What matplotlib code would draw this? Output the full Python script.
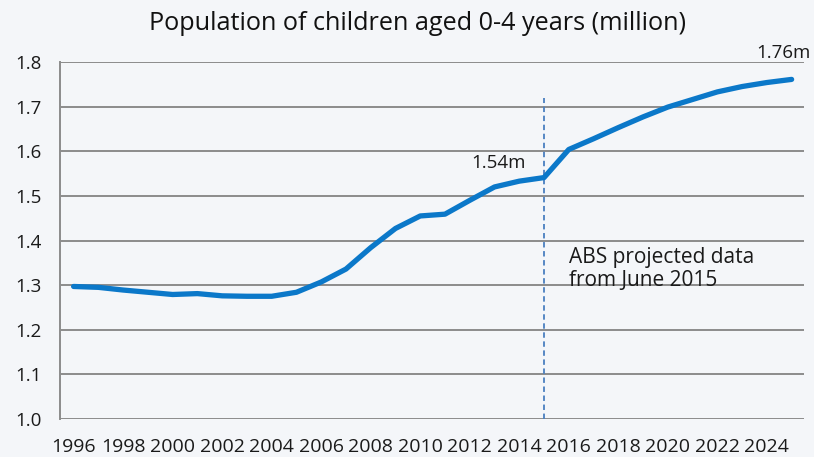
import matplotlib
matplotlib.use("Agg")
import matplotlib.pyplot as plt

# Population of children aged 0-4 (million), actual to 2015 and ABS projection after
years = list(range(1996, 2026))
population = [1.297, 1.295, 1.289, 1.284, 1.279, 1.281, 1.276, 1.275, 1.275, 1.284,
              1.307, 1.336, 1.384, 1.427, 1.455, 1.459, 1.490, 1.520, 1.533, 1.541,
              1.604, 1.628, 1.653, 1.677, 1.699, 1.716, 1.733, 1.745, 1.754, 1.761]
year_ticks = list(range(1996, 2025, 2))
y_ticks = [1.0, 1.1, 1.2, 1.3, 1.4, 1.5, 1.6, 1.7, 1.8]
projection_start = 2015
projection_line_top = 1.72

plt.rcParams['font.family'] = ['Open Sans', 'DejaVu Sans']

bg = '#f4f6f9'
fig = plt.figure(figsize=(8.14, 4.57), dpi=100, facecolor=bg)
ax = fig.add_axes([60 / 814, 38 / 457, 744 / 814, 357 / 457], facecolor=bg)

grid_color = '#8c8c8c'
for v in y_ticks:
    ax.axhline(v, color=grid_color, lw=1.4, zorder=1)

ax.plot(years, population, color='#0b78c9', lw=3.8, solid_capstyle='round',
        solid_joinstyle='round', zorder=3)

ax.vlines(projection_start, 1.0, projection_line_top, color='#4a7fc0', lw=1.3,
          linestyles=(0, (3, 2)), zorder=2)

ax.set_xlim(1995.45, 2025.5)
ax.set_ylim(1.0, 1.8)
ax.set_xticks(year_ticks)
ax.set_xticklabels([str(y) for y in year_ticks], fontsize=14)
ax.set_yticks(y_ticks)
ax.set_yticklabels([f"{v:.1f}" for v in y_ticks], fontsize=13.5)
ax.tick_params(axis='both', length=0, colors='#1a1a1a')
ax.tick_params(axis='x', pad=14)
ax.tick_params(axis='y', pad=13)

for side in ('top', 'right', 'bottom'):
    ax.spines[side].set_visible(False)
ax.spines['left'].set_color(grid_color)
ax.spines['left'].set_linewidth(1.4)

ax.text(2013.15, 1.562, "1.54m", fontsize=13.5, color='#1a1a1a', ha='center', va='baseline')
ax.text(2025.78, 1.808, "1.76m", fontsize=13.5, color='#1a1a1a', ha='right', va='baseline',
        clip_on=False)
ax.text(2016.0, 1.299, "ABS projected data\nfrom June 2015", fontsize=15,
        color='#1a1a1a', ha='left', va='baseline', linespacing=1.1)

fig.text(0.513, 0.948, "Population of children aged 0-4 years (million)",
         ha='center', va='center', fontsize=18.2, color='#111111')

fig.savefig("out.png", dpi=100, facecolor=bg)
